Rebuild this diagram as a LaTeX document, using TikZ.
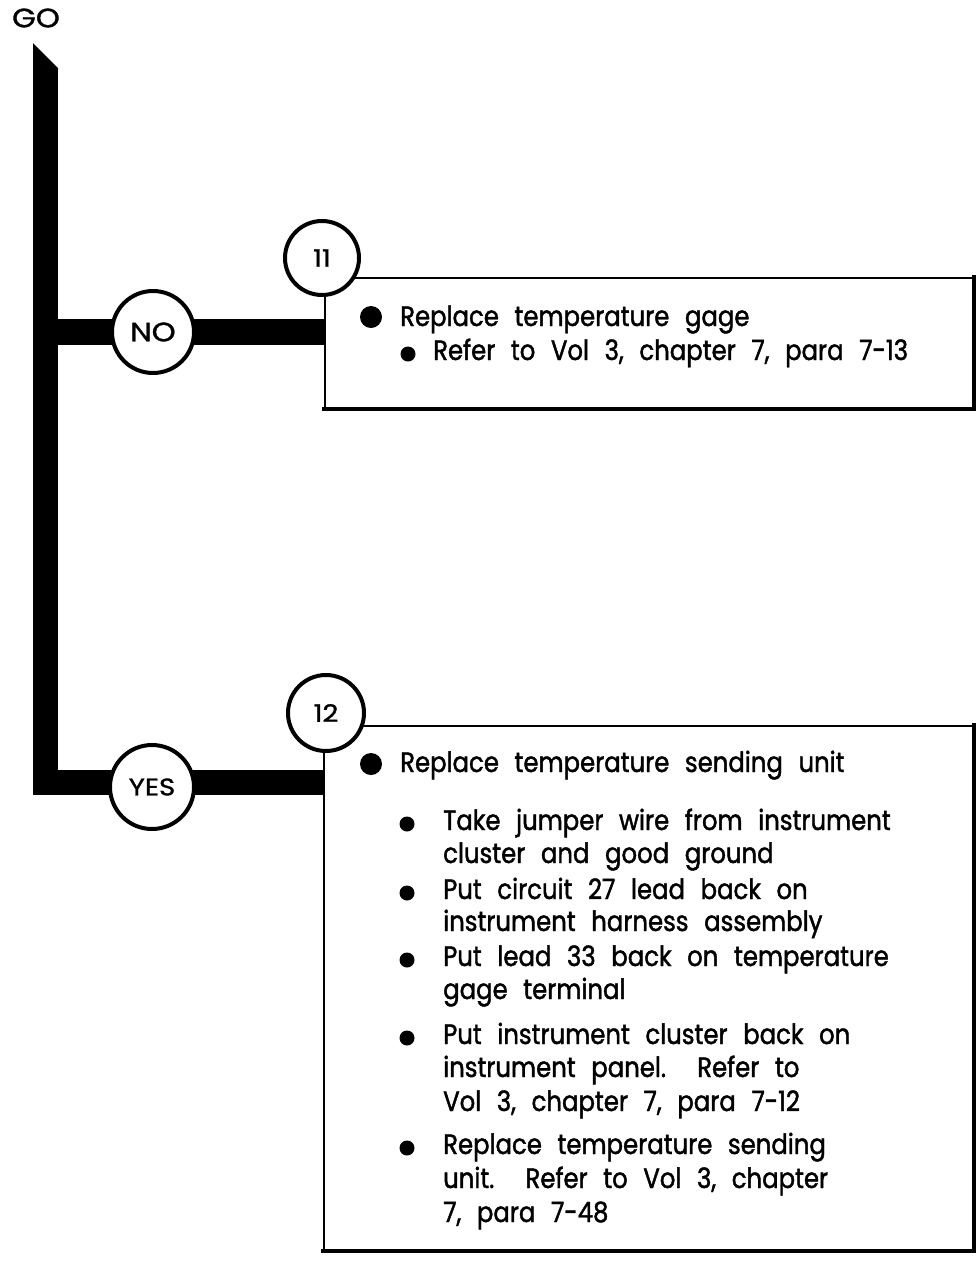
\documentclass[tikz,border=0pt]{standalone}
\usepackage{fontspec}
\setmainfont{Poppins}[FakeStretch=0.87, FakeBold=1.5, WordSpace=2.4]
\newfontfamily\badgefont{Poppins}[FakeStretch=1.15, FakeBold=1.2]
\begin{document}
\begin{tikzpicture}[x=1pt,y=-1pt]
\tikzset{
  bar/.style={line width=25.5pt, line join=miter},
  badge/.style={circle, draw, line width=4pt, fill=white, inner sep=0pt,
    font=\badgefont\fontsize{24}{24}\selectfont},
  widebadge/.style={badge, font=\badgefont\fontsize{26.5}{26.5}\selectfont},
  stepbox/.style={draw, line width=2.6pt, inner sep=0pt},
  heavyedge/.style={line width=4.2pt, line cap=rect},
  txt/.style={anchor=base west, inner sep=0pt,
    font=\fontsize{28}{34}\selectfont},
  bigdot/.style={circle, fill, inner sep=0pt, minimum size=22pt},
  smalldot/.style={circle, fill, inner sep=0pt, minimum size=15pt},
}
\useasboundingbox (0,0) rectangle (977,1264);
\fill[white] (0,0) rectangle (977,1264);

% boxes
\node[stepbox, minimum width=648pt, minimum height=130pt] (box1) at (649,343) {};
\draw[heavyedge] (box1.north east) -- (box1.south east) -- (box1.south west);
\node[stepbox, minimum width=649pt, minimum height=524pt] (box2) at (648.5,988) {};
\draw[heavyedge] (box2.north east) -- (box2.south east) -- (box2.south west);

% main bar
\node[anchor=center, inner sep=0pt, font=\badgefont\fontsize{26.5}{26.5}\selectfont] (go) at (36,18) {GO};
\coordinate (top) at (45.5,69);
\coordinate (jno) at (45.5,332);
\coordinate (jyes) at (45.5,782.5);
\fill (33,43) -- (58,68) -- (58,70) -- (33,70) -- cycle;
\draw[bar] (top) -- (jyes) -- (box2.west |- jyes);
\draw[bar] (jno) -- (box1.west |- jno);

% badges
\node[widebadge, minimum size=82pt] (no) at (153,332) {NO};
\node[badge, minimum size=84pt] (yes) at (152,787) {YES};
\node[badge, minimum size=74pt] (c11) at (322,258) {11};
\node[badge, minimum size=76pt] (c12) at (326,713) {12};

% box 1 text
\node[bigdot] (d1) at (371,317) {};
\node[txt] (t1) at (400,326) {Replace temperature gage};
\node[smalldot] (d1a) at (408,354) {};
\node[txt] (t1a) at (433,360) {Refer to Vol 3, chapter 7, para 7-13};

% box 2 text
\node[bigdot] (d2) at (371,764) {};
\node[txt] (t2) at (400,772) {Replace temperature sending unit};
\node[smalldot] (d2a) at (407,824) {};
\node[txt] (t2a) at (443,830) {Take jumper wire from instrument};
\node[txt] (t2a2) at (443,863) {cluster and good ground};
\node[smalldot] (d2b) at (407,893) {};
\node[txt] (t2b) at (443,899) {Put circuit 27 lead back on};
\node[txt] (t2b2) at (443,931) {instrument harness assembly};
\node[smalldot] (d2c) at (407,960) {};
\node[txt] (t2c) at (443,966) {Put lead 33 back on temperature};
\node[txt] (t2c2) at (443,999) {gage terminal};
\node[smalldot] (d2d) at (407,1038) {};
\node[txt] (t2d) at (443,1044) {Put instrument cluster back on};
\node[txt] (t2d2) at (443,1077) {instrument panel.\ \ Refer to};
\node[txt] (t2d3) at (443,1111) {Vol 3, chapter 7, para 7-12};
\node[smalldot] (d2e) at (407,1148) {};
\node[txt] (t2e) at (443,1154) {Replace temperature sending};
\node[txt] (t2e2) at (443,1188) {unit.\ \ Refer to Vol 3, chapter};
\node[txt] (t2e3) at (443,1222) {7, para 7-48};
\end{tikzpicture}
\end{document}
